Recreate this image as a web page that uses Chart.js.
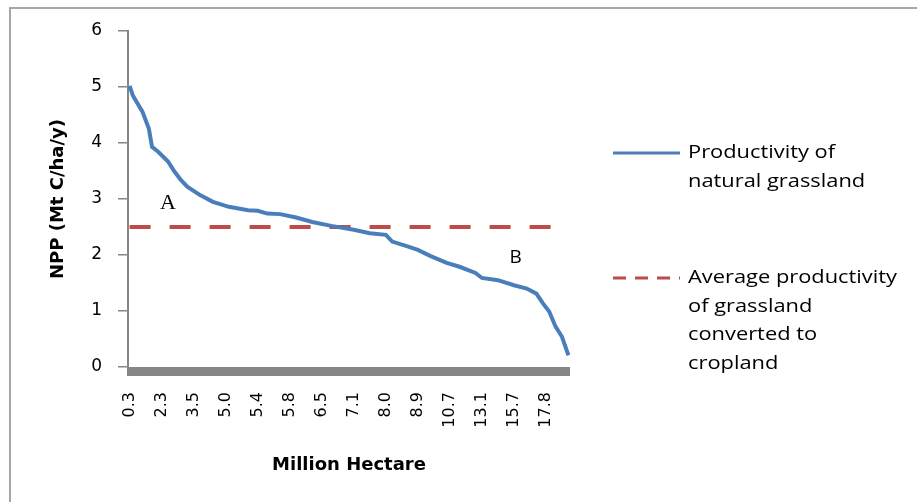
<!DOCTYPE html>
<html>
<head>
<meta charset="utf-8">
<script src="https://cdn.jsdelivr.net/npm/chart.js@4.4.1/dist/chart.umd.min.js"></script>
<style>
  html, body { margin: 0; padding: 0; background: #fff; }
  #wrap { width: 917px; height: 502px; position: relative; }
</style>
</head>
<body>
<div id="wrap"><canvas id="npp-chart"></canvas></div>
<script>
// Category axis: ~138 categories, Excel showed every 10th label
const categoryCount = 138;
const labelEvery = 10;
const hectareLabels = ['0.3', '2.3', '3.5', '5.0', '5.4', '5.8', '6.5', '7.1', '8.0', '8.9', '10.7', '13.1', '15.7', '17.8'];

// Natural grassland productivity (category index -> NPP)
const grassIdx = [0, 1, 4, 6, 7, 9, 12, 14, 16, 18, 22, 26, 31, 37, 40, 43, 47, 52, 57, 63, 70, 75, 80, 82, 87, 90, 94, 99, 103, 108, 110, 115, 120, 124, 127, 129, 131, 133, 135, 137];
const grassNpp = [5.02, 4.85, 4.56, 4.26, 3.93, 3.84, 3.67, 3.49, 3.34, 3.22, 3.07, 2.95, 2.86, 2.80, 2.79, 2.74, 2.73, 2.67, 2.59, 2.52, 2.45, 2.39, 2.36, 2.24, 2.15, 2.09, 1.98, 1.86, 1.79, 1.68, 1.59, 1.55, 1.46, 1.40, 1.31, 1.14, 0.99, 0.72, 0.54, 0.21];

// Average productivity of converted grassland
const avgIdx = [0, 137];
const avgNpp = [2.5, 2.5];

const yTicks = [0, 1, 2, 3, 4, 5, 6];

function toPoints(xs, ys) {
  return xs.map((x, i) => ({ x: x, y: ys[i] }));
}

// frame + grey floor under the x axis
const decorPlugin = {
  id: 'decor',
  beforeDraw(chart) {
    const ctx = chart.ctx;
    ctx.save();
    ctx.fillStyle = '#fff';
    ctx.fillRect(0, 0, chart.width, chart.height);
    ctx.strokeStyle = '#a6a6a6';
    ctx.lineWidth = 2;
    ctx.beginPath();
    ctx.moveTo(10, chart.height);
    ctx.lineTo(10, 8);
    ctx.lineTo(chart.width, 8);
    ctx.stroke();
    ctx.restore();
  },
  afterDraw(chart) {
    const { ctx, chartArea } = chart;
    ctx.save();
    ctx.fillStyle = '#868686';
    ctx.fillRect(chartArea.left - 1, chartArea.bottom, chartArea.right - chartArea.left + 1, 9);
    ctx.restore();
  }
};

// A / B labels placed in data space
const markPlugin = {
  id: 'marks',
  afterDatasetsDraw(chart, args, opts) {
    const { ctx, scales } = chart;
    ctx.save();
    ctx.fillStyle = '#000';
    ctx.textAlign = 'center';
    ctx.textBaseline = 'middle';
    opts.items.forEach(m => {
      ctx.font = m.font;
      ctx.fillText(m.text, scales.x.getPixelForValue(m.x), scales.y.getPixelForValue(m.y));
    });
    ctx.restore();
  }
};

// multi-line legend on the right
const sideLegend = {
  id: 'sideLegend',
  afterDraw(chart, args, opts) {
    const { ctx, chartArea } = chart;
    ctx.save();
    ctx.textBaseline = 'middle';
    ctx.fillStyle = '#000';
    chart.data.datasets.forEach((ds, i) => {
      const top = opts.rows[i];
      const x0 = chartArea.right + 43;
      ctx.strokeStyle = ds.borderColor;
      ctx.lineWidth = 3;
      ctx.setLineDash(ds.borderDash && ds.borderDash.length ? [13, 9] : []);
      ctx.beginPath();
      ctx.moveTo(x0, top);
      ctx.lineTo(x0 + 67, top);
      ctx.stroke();
      ctx.setLineDash([]);
      ds.legendLines.forEach((line, j) => {
        ctx.save();
        ctx.translate(x0 + 75, top + j * opts.lineGap);
        ctx.scale(opts.stretch, 1);
        ctx.font = opts.font;
        ctx.fillText(line, 0, 0);
        ctx.restore();
      });
    });
    ctx.restore();
  }
};

new Chart(document.getElementById('npp-chart'), {
  type: 'line',
  data: {
    datasets: [
      {
        label: 'Productivity of natural grassland',
        legendLines: ['Productivity of', 'natural grassland'],
        data: toPoints(grassIdx, grassNpp),
        borderColor: '#4A7EBB',
        borderWidth: 4,
        pointRadius: 0,
        tension: 0,
        fill: false
      },
      {
        label: 'Average productivity of grassland converted to cropland',
        legendLines: ['Average productivity', 'of grassland', 'converted to', 'cropland'],
        data: toPoints(avgIdx, avgNpp),
        borderColor: '#BE4B48',
        borderWidth: 4,
        borderDash: [21, 19],
        pointRadius: 0,
        fill: false
      }
    ]
  },
  options: {
    responsive: true,
    maintainAspectRatio: false,
    animation: false,
    layout: { padding: { left: 0, top: 31, right: 347, bottom: 0 } },
    plugins: {
      legend: { display: false },
      tooltip: { enabled: false },
      marks: {
        items: [
          { text: 'A', x: 12, y: 2.92, font: '22px "Liberation Serif"' },
          { text: 'B', x: 120.5, y: 1.95, font: '19px "Open Sans"' }
        ]
      },
      sideLegend: { font: '19px "Open Sans"', stretch: 1.15, rows: [153, 278], lineGap: 28.5 }
    },
    scales: {
      x: {
        type: 'linear',
        min: -0.5,
        max: categoryCount - 0.5,
        afterBuildTicks(scale) {
          scale.ticks = hectareLabels.map((l, i) => ({ value: i * labelEvery }));
        },
        afterFit(scale) { scale.height = 135; },
        grid: { display: false, drawTicks: false },
        border: { display: false },
        ticks: {
          autoSkip: false,
          maxRotation: 90,
          minRotation: 90,
          padding: 25,
          color: '#000',
          font: { family: 'DejaVu Sans', size: 16 },
          callback: v => hectareLabels[Math.round(v / labelEvery)]
        },
        title: {
          display: true,
          text: 'Million Hectare',
          color: '#000',
          font: { family: 'DejaVu Sans', size: 18, weight: 'bold' },
          padding: { top: 0, bottom: 26 }
        }
      },
      y: {
        min: 0,
        max: 6,
        afterBuildTicks(scale) {
          scale.ticks = yTicks.map(v => ({ value: v }));
        },
        afterFit(scale) { scale.width = 128; },
        grid: { drawOnChartArea: false, color: '#868686', tickLength: 10, lineWidth: 1.5 },
        border: { color: '#868686', width: 2 },
        ticks: {
          padding: 16,
          color: '#000',
          font: { family: 'DejaVu Sans', size: 17 }
        },
        title: {
          display: true,
          text: 'NPP (Mt C/ha/y)',
          color: '#000',
          font: { family: 'DejaVu Sans', size: 18, weight: 'bold' },
          padding: { top: 48, bottom: 0 }
        }
      }
    }
  },
  plugins: [decorPlugin, markPlugin, sideLegend]
});
</script>
</body>
</html>
